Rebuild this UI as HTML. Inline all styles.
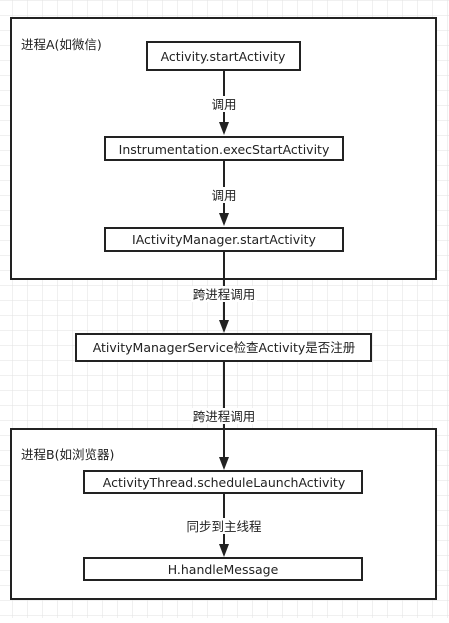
<!DOCTYPE html>
<html><head><meta charset="utf-8"><style>
html,body{margin:0;padding:0;background:#fff;}
svg text{font-family:"DejaVu Sans","Noto Sans CJK SC",sans-serif;font-size:12.5px;fill:#222;}
</style></head><body>
<svg width="449" height="618" xmlns="http://www.w3.org/2000/svg">
<defs>
<pattern id="g" x="12.5" y="0" width="15" height="15" patternUnits="userSpaceOnUse">
<path d="M0 0V15M0 0H15" stroke="#e2e2e2" stroke-width="1" fill="none"/>
</pattern>
</defs>
<rect width="449" height="618" fill="url(#g)"/>
<g stroke="#222" stroke-width="2" fill="#fff">
<rect x="11" y="18" width="425" height="261"/>
<rect x="11" y="429" width="425" height="170"/>
</g>
<g stroke="#222" stroke-width="2">
<line x1="224" y1="70" x2="224" y2="126"/>
<line x1="224" y1="160" x2="224" y2="217"/>
<line x1="224" y1="251" x2="224" y2="324"/>
<line x1="224" y1="361" x2="224" y2="461"/>
<line x1="224" y1="493" x2="224" y2="548"/>
</g>
<g fill="#222">
<polygon points="219,122 229,122 224,135"/>
<polygon points="219,213 229,213 224,226"/>
<polygon points="219,320 229,320 224,333"/>
<polygon points="219,457 229,457 224,470"/>
<polygon points="219,544 229,544 224,557"/>
</g>
<g stroke="#222" stroke-width="2" fill="#fff">
<rect x="147" y="42" width="153" height="28"/>
<rect x="105" y="137" width="238" height="23"/>
<rect x="105" y="228" width="238" height="23"/>
<rect x="76" y="334" width="295" height="27"/>
<rect x="84" y="471" width="278" height="22"/>
<rect x="84" y="558" width="278" height="22"/>
</g>
<g text-anchor="middle">
<text x="223" y="61">Activity.startActivity</text>
<text x="224" y="154">Instrumentation.execStartActivity</text>
<text x="224" y="244">IActivityManager.startActivity</text>
<text x="224" y="352">AtivityManagerService检查Activity是否注册</text>
<text x="224" y="487">ActivityThread.scheduleLaunchActivity</text>
<text x="223" y="574">H.handleMessage</text>
</g>
<g text-anchor="middle">
<rect x="209" y="96" width="30" height="16" fill="#fff"/>
<text x="224" y="109">调用</text>
<rect x="209" y="187" width="30" height="16" fill="#fff"/>
<text x="224" y="200">调用</text>
<rect x="191" y="286" width="66" height="16" fill="#fff"/>
<text x="224" y="299">跨进程调用</text>
<rect x="191" y="408" width="66" height="16" fill="#fff"/>
<text x="224" y="421">跨进程调用</text>
<rect x="185" y="518" width="78" height="16" fill="#fff"/>
<text x="224" y="531">同步到主线程</text>
</g>
<text x="21" y="49">进程A(如微信)</text>
<text x="21" y="459">进程B(如浏览器)</text>
</svg>
</body></html>
